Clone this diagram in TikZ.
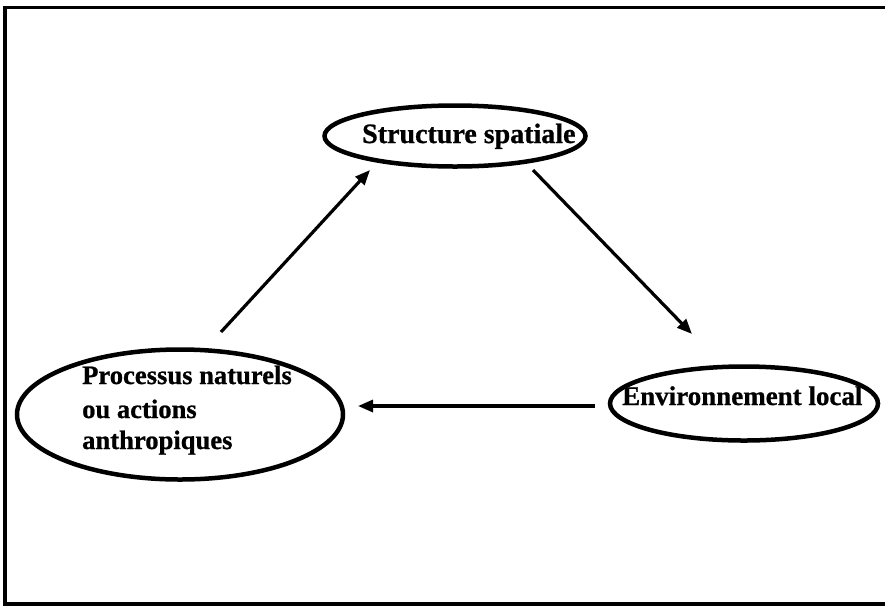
\documentclass[tikz,border=0pt]{standalone}
\usepackage{fontspec}
\setmainfont{Liberation Serif}[BoldFeatures={FakeBold=0.8}]
\usetikzlibrary{shapes.geometric,arrows.meta}
\begin{document}
\begin{tikzpicture}[x=1pt,y=-1pt,
  oval/.style={ellipse,draw,line width=4.5pt,inner sep=0pt},
  lbl/.style={inner sep=0pt,anchor=base west,font=\fontsize{27}{33}\selectfont\bfseries},
  conn/.style={line width=3.2pt,-{Triangle[length=15pt,width=12pt]}}]
\useasboundingbox (0,0) rectangle (885,606);
\draw[line width=3.5pt] (892,7.7) -- (5,7.7) -- (5,604) -- (892,604);
% ellipses
\node[oval,minimum width=261pt,minimum height=61pt] (top) at (455,136) {};
\node[oval,minimum width=326pt,minimum height=130pt] (left) at (180,414.5) {};
\node[oval,minimum width=268pt,minimum height=74pt] (right) at (744,403.5) {};
% labels
\node[lbl,font=\fontsize{28}{33}\selectfont\bfseries] (ttop) at (362,143) {Structure spatiale};
\node[lbl,font=\fontsize{26.6}{33}\selectfont\bfseries] (tl1) at (82,384) {Processus naturels};
\node[lbl,font=\fontsize{26.6}{33}\selectfont\bfseries] (tl2) at (82,418) {ou actions};
\node[lbl,font=\fontsize{26.6}{33}\selectfont\bfseries] (tl3) at (82,449) {anthropiques};
\node[lbl] (tright) at (622,405) {Environnement local};
% connector ends
\coordinate (a1) at (221,332);
\coordinate (a2) at (370,170);
\coordinate (b1) at (533,170);
\coordinate (b2) at (692,334);
\coordinate (c1) at (595,406);
\coordinate (c2) at (358,406);
\draw[conn] (a1) -- (a2);
\draw[conn] (b1) -- (b2);
\draw[conn] (c1) -- (c2);
\end{tikzpicture}
\end{document}
